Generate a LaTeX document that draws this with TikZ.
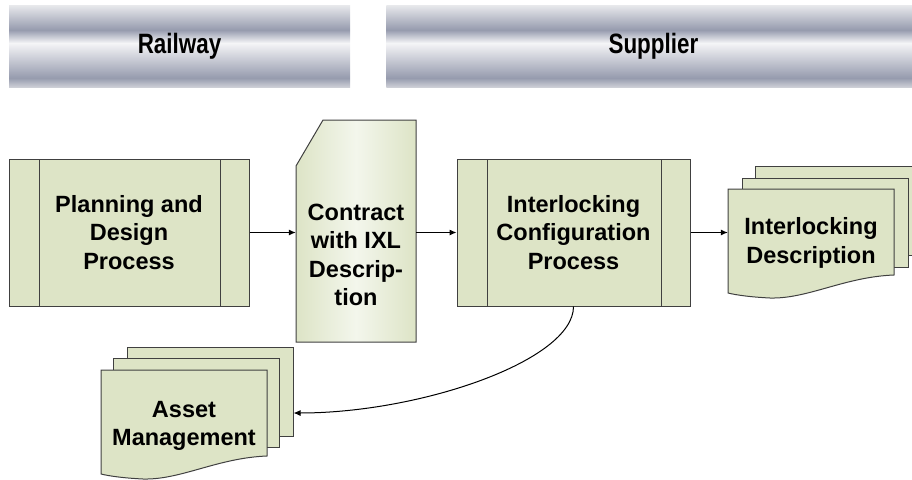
\documentclass[tikz,border=0pt]{standalone}
\usepackage{fontspec}
\setmainfont{Liberation Sans}
\usetikzlibrary{positioning,arrows.meta}

\definecolor{boxgreen}{RGB}{221,228,198}
\definecolor{cardlight}{RGB}{243,246,236}
\definecolor{linegray}{RGB}{64,64,64}
\definecolor{barlight}{RGB}{232,233,236}
\definecolor{bardark}{RGB}{150,155,174}
\definecolor{barwhite}{RGB}{245,245,247}
\definecolor{barbottom}{RGB}{205,207,214}

\pgfdeclareverticalshading{metalbar}{100bp}{color(0bp)=(barbottom); color(25bp)=(barbottom);
  color(30.5bp)=(bardark); color(51.8bp)=(barwhite); color(59.8bp)=(bardark);
  color(75bp)=(barlight); color(100bp)=(barlight)}

\begin{document}
\begin{tikzpicture}[x=1pt, y=-1pt,
  boxtext/.style={font=\fontsize{23.5}{28.5}\selectfont\bfseries, align=center, inner sep=0pt},
  procbox/.style={boxtext, draw=linegray, line width=1pt, fill=boxgreen,
    minimum height=147pt,
    path picture={
      \draw[linegray, line width=1pt] ([xshift=30pt]path picture bounding box.north west)
        -- ([xshift=30pt]path picture bounding box.south west);
      \draw[linegray, line width=1pt] ([xshift=-29pt]path picture bounding box.north east)
        -- ([xshift=-29pt]path picture bounding box.south east);
    }},
  headbar/.style={shade, shading=metalbar, inner sep=0pt, minimum height=82pt,
    font=\fontsize{28}{30}\selectfont\bfseries},
  sheet/.style={draw=linegray, line width=1pt, fill=boxgreen, inner sep=0pt,
    minimum width=166pt, minimum height=89pt},
  frontsheet/.style={draw=linegray, line width=1pt, fill=boxgreen},
  cardfill/.style={draw=linegray, line width=1pt, left color=boxgreen,
    right color=boxgreen, middle color=cardlight},
  flow/.style={-{Latex[length=7pt,width=6pt]}, line width=1pt}]
  \def\narrow#1{\scalebox{0.8}[1]{#1}}
  \def\frontsheet#1#2{\draw[frontsheet] (#1,#2) -- ({#1+166},#2) -- ({#1+166},{#2+86})
    .. controls ({#1+116},{#2+88}) and ({#1+80},{#2+110}) .. ({#1+42},{#2+109})
    .. controls ({#1+22},{#2+108}) and ({#1+8},{#2+106}) .. (#1,{#2+104}) -- cycle;}

  \useasboundingbox (0,0) rectangle (912,479);

  % Lanes
  \node[headbar, minimum width=341pt] (railway) at (179.5,46) {\narrow{Railway}};
  \node[headbar, minimum width=534pt, right=36pt of railway] (supplier) {\narrow{Supplier}};

  % Planning
  \node[procbox, minimum width=240pt] (plan) at (129,232.5) {Planning and\\Design\\Process};

  % Contract (card)
  \path[cardfill] (296,342) -- (296,166) -- (323,120) -- (416,120) -- (416,342) -- cycle;
  \node[boxtext, minimum width=120pt] (contract) at (356,255) {Contract\\with IXL\\Descrip-\\tion};

  % Interlocking configuration
  \node[procbox, minimum width=233pt] (icp) at (573.5,232.5) {Interlocking\\Configuration\\Process};

  % Interlocking description
  \node[sheet] (intdescback) at (838,210.5) {};
  \node[sheet] (intdescmid) at (825,222.5) {};
  \frontsheet{728}{189}
  \node[boxtext, minimum width=166pt] (intdesc) at (811,243) {Interlocking\\Description};

  % Asset management
  \node[sheet] (assetback) at (210,391.5) {};
  \node[sheet] (assetmid) at (196,402.5) {};
  \frontsheet{101}{370}
  \node[boxtext, minimum width=166pt] (asset) at (184,426) {Asset\\Management};

  % Flows
  \draw[flow] (plan.east) -- (plan.east -| contract.west);
  \draw[flow] (plan.east -| contract.east) -- (icp.west);
  \draw[flow] (icp.east) -- (icp.east -| intdesc.west);
  \draw[flow] (icp.south) .. controls +(0,54) and +(127,0) .. ([yshift=-21.5pt]assetback.east);
\end{tikzpicture}
\end{document}
